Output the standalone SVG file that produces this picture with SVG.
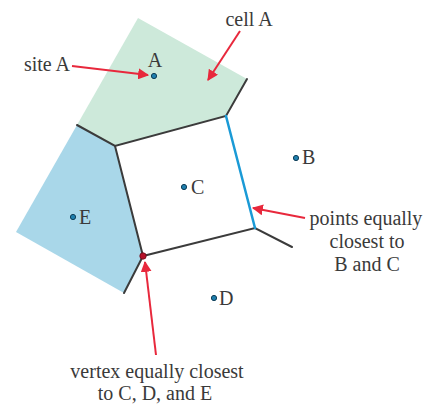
<svg xmlns="http://www.w3.org/2000/svg" width="427" height="405" viewBox="0 0 427 405">
<defs>
<style>
.lbl{font-family:"Liberation Serif","Times New Roman",serif;font-size:20px;fill:#3a3a3a}
.edge{stroke:#3b3b3b;stroke-width:2;fill:none;stroke-linecap:round}
.arr{stroke:#e8283c;stroke-width:2;fill:none}
.site{fill:#1f7fae;stroke:#0c3b55;stroke-width:1}
</style>
<marker id="ah" viewBox="0 0 10 10" refX="9" refY="5" markerWidth="5.5" markerHeight="5.5" orient="auto" markerUnits="strokeWidth">
<path d="M0,0 L10,5 L0,10 z" fill="#e8283c"/>
</marker>
</defs>
<rect width="427" height="405" fill="#ffffff"/>
<g id="cellA">
<polygon points="138,18 247,79 226,116 115,146 77,125" fill="#cde9da"/>
</g>
<g id="cellE">
<polygon points="77,125 115,146 143,256 124,293 16,232" fill="#a9d7e9"/>
</g>
<g id="edges">
<polyline class="edge" points="77,125 115,146 226,116 247,79"/>
<polyline class="edge" points="115,146 143,256 255,228 292,247"/>
<line class="edge" x1="143" y1="256" x2="124" y2="293"/>
<line x1="226" y1="116" x2="255" y2="228" stroke="#1a9ad6" stroke-width="2.5" stroke-linecap="round"/>
</g>
<g id="connectors">
<line class="arr" x1="72" y1="66" x2="148" y2="75" marker-end="url(#ah)"/>
<line class="arr" x1="240" y1="31" x2="208" y2="80" marker-end="url(#ah)"/>
<line class="arr" x1="305" y1="218" x2="253" y2="208" marker-end="url(#ah)"/>
<line class="arr" x1="156" y1="355" x2="145" y2="262" marker-end="url(#ah)"/>
</g>
<g id="vertex">
<circle cx="143" cy="256" r="3.2" fill="#b5122a" stroke="#6a0a18" stroke-width="0.8"/>
</g>
<g id="siteA">
<circle class="site" cx="154" cy="76" r="2.6"/>
<text class="lbl" x="155" y="67" text-anchor="middle">A</text>
</g>
<g id="siteB">
<circle class="site" cx="296" cy="158" r="2.6"/>
<text class="lbl" x="302" y="164">B</text>
</g>
<g id="siteC">
<circle class="site" cx="184" cy="187" r="2.6"/>
<text class="lbl" x="191" y="194">C</text>
</g>
<g id="siteD">
<circle class="site" cx="214" cy="298" r="2.6"/>
<text class="lbl" x="219" y="305">D</text>
</g>
<g id="siteE">
<circle class="site" cx="73" cy="217" r="2.6"/>
<text class="lbl" x="79" y="224">E</text>
</g>
<g id="labels">
<text class="lbl" x="70" y="71" text-anchor="end">site A</text>
<text class="lbl" x="249" y="26" text-anchor="middle">cell A</text>
<text class="lbl" x="366" y="225" text-anchor="middle">points equally</text>
<text class="lbl" x="367" y="248" text-anchor="middle">closest to</text>
<text class="lbl" x="367" y="271" text-anchor="middle">B and C</text>
<text class="lbl" x="157" y="378" text-anchor="middle">vertex equally closest</text>
<text class="lbl" x="155" y="400" text-anchor="middle">to C, D, and E</text>
</g>
</svg>
